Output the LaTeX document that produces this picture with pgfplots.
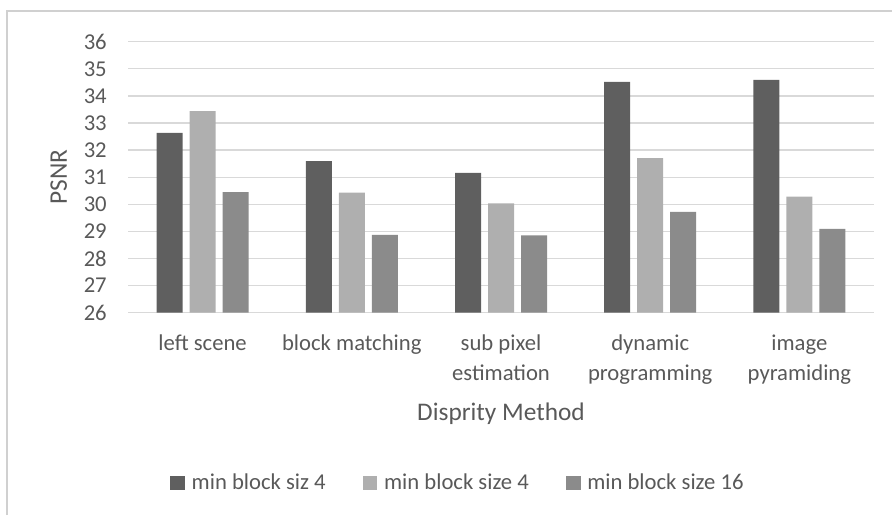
\documentclass[border=0pt]{standalone}
\usepackage{fontspec}
\setmainfont{Carlito}
\usepackage{pgfplots}
\usepackage{pgfplotstable}
\pgfplotsset{compat=1.18}

\definecolor{txt}{HTML}{595959}
\definecolor{gridc}{HTML}{D9D9D9}
\definecolor{framec}{HTML}{D0D0D0}
\definecolor{sA}{HTML}{5F5F5F}
\definecolor{sB}{HTML}{AFAFAF}
\definecolor{sC}{HTML}{8B8B8B}

% PSNR per disparity method
\pgfplotstableread{
x A B C
0 32.64 33.44 30.45
1 31.59 30.43 28.87
2 31.16 30.03 28.85
3 34.52 31.70 29.72
4 34.59 30.28 29.09
}\psnr

\begin{document}
\begin{tikzpicture}
% page area and chart frame
\path[use as bounding box] (0,0) rectangle ({892*0.75pt},{-515*0.75pt});
\draw[framec, line width=1.2pt] ({7*0.75pt},{-515*0.75pt}) -- ({7*0.75pt},{-11*0.75pt}) -- ({892*0.75pt},{-11*0.75pt});
\begin{axis}[
  at={({128*0.75pt},{-312.7*0.75pt})}, anchor=south west,
  scale only axis,
  width={746*0.75pt}, height={271*0.75pt},
  ybar=5.25pt, bar width=19.5pt,
  xmin=-0.5, xmax=4.5,
  ymin=26, ymax=36,
  ytick={26,27,...,36},
  xtick=data,
  xticklabels={{\strut left scene},{\strut block matching},{\strut sub pixel\\estimation},{\strut dynamic\\programming},{\strut image\\pyramiding}},
  axis line style={draw=none},
  major tick length=0pt,
  ymajorgrids, grid style={gridc, line width=1pt},
  axis on top=false,
  /pgf/number format/assume math mode=true,
  tick label style={font=\fontsize{17}{22.5}\selectfont, text=txt},
  yticklabel style={anchor=east, inner sep=0pt, xshift=-15.75pt},
  xticklabel style={anchor=north, inner sep=0pt, align=center, yshift=-12.2pt},
  xlabel={Disprity Method},
  ylabel={PSNR},
  label style={font=\fontsize{19}{23}\selectfont, text=txt},
  xlabel style={at={(axis description cs:0.5,-0.396)}, anchor=base},
  ylabel style={at={(axis description cs:-0.093,0.5)}, anchor=center},
  legend columns=3,
  legend style={at={(axis description cs:0.441,-0.628)}, anchor=center,
    draw=none, fill=none, font=\fontsize{17}{20}\selectfont, text=txt,
    nodes={inner sep=0pt},
    /tikz/every odd column/.append style={column sep=5pt},
    /tikz/every even column/.append style={column sep=27.75pt}},
  legend image code/.code={\fill[#1] (0pt,-5.2pt) rectangle (11pt,5.2pt);},
]
\addplot[fill=sA, draw=none] table[x=x, y=A] {\psnr};
\addplot[fill=sB, draw=none] table[x=x, y=B] {\psnr};
\addplot[fill=sC, draw=none] table[x=x, y=C] {\psnr};
\legend{min block siz 4, min block size 4, min block size 16}
\end{axis}
\end{tikzpicture}
\end{document}
